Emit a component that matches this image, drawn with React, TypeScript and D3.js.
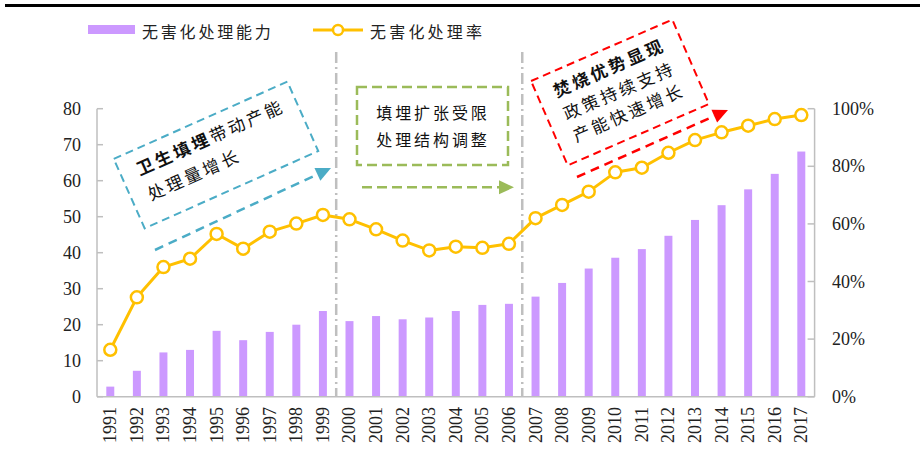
import React from 'react';
import * as d3 from 'd3';

const years = ['1991','1992','1993','1994','1995','1996','1997','1998','1999','2000','2001','2002','2003','2004','2005','2006','2007','2008','2009','2010','2011','2012','2013','2014','2015','2016','2017'];
const capacity = [2.8, 7.2, 12.3, 13.0, 18.3, 15.7, 18.0, 20.0, 23.8, 21.0, 22.4, 21.5, 22.0, 23.8, 25.5, 25.8, 27.8, 31.6, 35.6, 38.6, 41.0, 44.7, 49.1, 53.2, 57.6, 61.9, 68.1];
const rate = [16.3, 34.5, 45.0, 47.9, 56.5, 51.4, 57.3, 60.1, 63.1, 61.6, 58.1, 54.2, 50.8, 52.1, 51.7, 53.1, 62.0, 66.6, 71.2, 77.9, 79.5, 84.7, 89.1, 91.8, 94.1, 96.4, 97.8];
const leftTicks = [0, 10, 20, 30, 40, 50, 60, 70, 80];
const rightTicks = [0, 20, 40, 60, 80, 100];
const seriesNames = ['无害化处理能力', '无害化处理率'];
const dividerYears = [['1999', '2000'], ['2006', '2007']];

const PURPLE = '#CC99FF';
const GOLD = '#FFC000';
const GREY = '#BFBFBF';
const BLUE = '#4BACC6';
const GREEN = '#9BBB59';
const RED = '#FF0000';
const SERIF = '"Liberation Serif", "DejaVu Serif", serif';
const CJK = '"Noto Sans CJK SC", sans-serif';

function Arrow({ x1, y1, x2, y2, color, dash }: { x1: number; y1: number; x2: number; y2: number; color: string; dash: string }) {
  const ang = Math.atan2(y2 - y1, x2 - x1);
  const L = 15, Wd = 7;
  const bx = x2 - L * Math.cos(ang), by = y2 - L * Math.sin(ang);
  const px = -Math.sin(ang) * Wd, py = Math.cos(ang) * Wd;
  const pts = `${x2},${y2} ${bx + px},${by + py} ${bx - px},${by - py}`;
  return (
    <g>
      <line x1={x1} y1={y1} x2={bx} y2={by} stroke={color} strokeWidth={2.5} strokeDasharray={dash} />
      <polygon points={pts} fill={color} />
    </g>
  );
}

export default function App() {
  const W = 920, H = 452;
  const xL = 97, xR = 814.6, yB = 396.7, yT = 108.7;
  const x = d3.scaleBand<string>().domain(years).range([xL, xR]).paddingInner(0.7).paddingOuter(0.35);
  const yL = d3.scaleLinear().domain([0, 80]).range([yB, yT]);
  const yR = d3.scaleLinear().domain([0, 100]).range([yB, yT]);
  const cx = (y: string) => (x(y) as number) + x.bandwidth() / 2;
  const linePath = d3.line<number>().x((_, i) => cx(years[i])).y(d => yR(d))(rate) || '';

  return (
    <svg width={W} height={H} style={{ position: 'absolute', left: 0, top: 0, background: '#fff' }}>
      {/* top rule */}
      <line x1={5} x2={920} y1={5.5} y2={5.5} stroke="#000" strokeWidth={3} />

      {/* legend */}
      <rect x={88} y={25} width={47} height={9} fill={PURPLE} />
      <text x={142} y={31} fontFamily={CJK} fontSize={16} letterSpacing={2.8} dominantBaseline="central" fill="#222">{seriesNames[0]}</text>
      <line x1={313} x2={363} y1={30} y2={30} stroke={GOLD} strokeWidth={3} />
      <circle cx={338} cy={30} r={5} fill="#fff" stroke={GOLD} strokeWidth={2.5} />
      <text x={370} y={31} fontFamily={CJK} fontSize={16} letterSpacing={3.2} dominantBaseline="central" fill="#222">{seriesNames[1]}</text>

      {/* bars */}
      {years.map((yr, i) => (
        <rect key={yr} x={x(yr)} y={yL(capacity[i])} width={x.bandwidth()} height={yB - yL(capacity[i])} fill={PURPLE} />
      ))}

      {/* dividers */}
      {dividerYears.map(([a, b]) => {
        const dx = (cx(a) + cx(b)) / 2;
        return <line key={a} x1={dx} x2={dx} y1={52} y2={yB} stroke={GREY} strokeWidth={2.5} strokeDasharray="11,4,2,4" />;
      })}

      {/* axes */}
      <line x1={xL} x2={xR} y1={yB} y2={yB} stroke={GREY} strokeWidth={1.5} />
      <line x1={xL} x2={xL} y1={yT} y2={yB} stroke={GREY} strokeWidth={1.5} />
      <line x1={xR} x2={xR} y1={yT} y2={yB} stroke={GREY} strokeWidth={1.5} />
      {leftTicks.map(t => (
        <g key={'l' + t}>
          <line x1={xL} x2={xL + 6} y1={yL(t)} y2={yL(t)} stroke={GREY} strokeWidth={1.5} />
          <text x={81} y={yL(t)} textAnchor="end" dominantBaseline="central" fontFamily={SERIF} fontSize={18} fill="#222">{t}</text>
        </g>
      ))}
      {rightTicks.map(t => (
        <g key={'r' + t}>
          <line x1={xR - 7} x2={xR} y1={yR(t)} y2={yR(t)} stroke={GREY} strokeWidth={1.5} />
          <text x={832} y={yR(t)} textAnchor="start" dominantBaseline="central" fontFamily={SERIF} fontSize={18} fill="#222">{t + '%'}</text>
        </g>
      ))}
      {years.map(yr => (
        <text key={'x' + yr} transform={`translate(${cx(yr)},407) rotate(-90)`} textAnchor="end" dominantBaseline="central" fontFamily={SERIF} fontSize={18} fill="#222">{yr}</text>
      ))}

      {/* line */}
      <path d={linePath} fill="none" stroke={GOLD} strokeWidth={3} strokeLinejoin="round" />
      {rate.map((r, i) => (
        <circle key={'c' + i} cx={cx(years[i])} cy={yR(r)} r={6} fill="#fff" stroke={GOLD} strokeWidth={2.5} />
      ))}

      {/* blue annotation */}
      <g transform="translate(216,155) rotate(-24)">
        <rect x={-95} y={-38} width={190} height={76} fill="none" stroke={BLUE} strokeWidth={2} strokeDasharray="8,5" />
        <text x={-78} y={-20} fontFamily={CJK} fontSize={17} letterSpacing={3} dominantBaseline="central" fill="#111">
          <tspan fontWeight="bold">卫生填埋</tspan><tspan>带动产能</tspan>
        </text>
        <text x={-78} y={8} fontFamily={CJK} fontSize={17} letterSpacing={3} dominantBaseline="central" fill="#111">处理量增长</text>
      </g>
      <Arrow x1={155} y1={250} x2={331} y2={168} color={BLUE} dash="9,6" />

      {/* green annotation */}
      <rect x={357} y={87} width={151} height={78} fill="none" stroke={GREEN} strokeWidth={2.5} strokeDasharray="10,5" />
      <text x={433} y={112} textAnchor="middle" fontFamily={CJK} fontSize={16} letterSpacing={2.9} dominantBaseline="central" fill="#111">填埋扩张受限</text>
      <text x={433} y={139} textAnchor="middle" fontFamily={CJK} fontSize={16} letterSpacing={2.9} dominantBaseline="central" fill="#111">处理结构调整</text>
      <Arrow x1={362} y1={187.3} x2={514} y2={187.3} color={GREEN} dash="10,5" />

      {/* red annotation */}
      <g transform="translate(620,92.5) rotate(-23.5)">
        <rect x={-77} y={-46} width={154} height={92} fill="none" stroke={RED} strokeWidth={2} strokeDasharray="8,5" />
        <text x={0} y={-28} textAnchor="middle" fontFamily={CJK} fontSize={17} fontWeight="bold" letterSpacing={3} dominantBaseline="central" fill="#111">焚烧优势显现</text>
        <text x={0} y={-3} textAnchor="middle" fontFamily={CJK} fontSize={17} letterSpacing={3} dominantBaseline="central" fill="#111">政策持续支持</text>
        <text x={0} y={21} textAnchor="middle" fontFamily={CJK} fontSize={17} letterSpacing={3} dominantBaseline="central" fill="#111">产能快速增长</text>
      </g>
      <Arrow x1={577} y1={177} x2={728} y2={110} color={RED} dash="9,6" />
    </svg>
  );
}
